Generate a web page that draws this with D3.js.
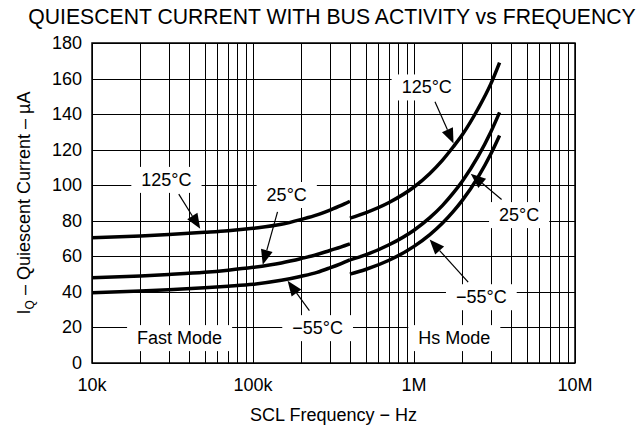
<!DOCTYPE html>
<html>
<head>
<meta charset="utf-8">
<script src="https://cdn.jsdelivr.net/npm/d3@7"></script>
<style>
  html, body { margin: 0; padding: 0; background: #fff; }
  svg { display: block; }
  text { font-family: "Liberation Sans", Arial, Helvetica, sans-serif; fill: #000; }
</style>
</head>
<body>
<svg id="chart" width="642" height="432"></svg>
<script>
// ---- data ----
const titleText = "QUIESCENT CURRENT WITH BUS ACTIVITY vs FREQUENCY";
const xTickValues = [1e4, 1e5, 1e6, 1e7];
const xTickLabels = ["10k", "100k", "1M", "10M"];
const yTickValues = [0, 20, 40, 60, 80, 100, 120, 140, 160, 180];

// Fast mode (10 kHz .. 400 kHz)
const fastFreq   = [1e4, 2e4, 3e4, 5e4, 7e4, 1e5, 1.5e5, 2e5, 2.5e5, 3e5, 3.5e5, 4e5];
const fast125    = [70.5, 71.5, 72.3, 73.5, 74.4, 75.8, 78.0, 80.8, 83.3, 86.0, 88.5, 91.0];
const fast25     = [48.0, 49.0, 49.8, 51.0, 52.2, 53.8, 56.3, 58.8, 61.0, 63.3, 65.2, 67.0];
const fastM55    = [39.5, 40.5, 41.2, 42.3, 43.2, 44.3, 46.5, 48.8, 51.0, 53.5, 55.8, 58.0];

// Hs mode (400 kHz .. 3.4 MHz)
const hsFreq     = [4e5, 5e5, 7e5, 1e6, 1.25e6, 1.5e6, 1.75e6, 2e6, 2.5e6, 3e6, 3.4e6];
const hs125      = [81.5, 84.5, 90.3, 99.0, 106.5, 114.0, 121.5, 128.5, 143.0, 157.0, 169.0];
const hs25       = [58.0, 60.8, 66.5, 74.7, 81.6, 88.5, 95.5, 102.4, 116.2, 130.0, 141.0];
const hsM55      = [50.0, 52.6, 57.8, 65.6, 72.1, 78.6, 85.1, 91.6, 104.6, 117.6, 128.0];

const seriesList = [
  { freq: fastFreq, vals: fast125 }, { freq: fastFreq, vals: fast25 }, { freq: fastFreq, vals: fastM55 },
  { freq: hsFreq, vals: hs125 },     { freq: hsFreq, vals: hs25 },     { freq: hsFreq, vals: hsM55 }
];

// annotations: text, label centre (freq, value), arrow tail and tip (freq, value)
const annoText  = ["125°C", "25°C", "−55°C", "125°C", "25°C", "−55°C", "Fast Mode", "Hs Mode"];
const annoAt    = [[2.9e4, 103], [1.62e5, 94.5], [2.52e5, 19.6], [1.2e6, 155], [4.5e6, 83.2], [2.62e6, 37], [3.5e4, 14], [1.78e6, 14]];
const arrowFrom = [[3.46e4, 95], [1.42e5, 85], [2.24e5, 29.5], [1.35e6, 147], [3.5e6, 92], [2.17e6, 45.5], null, null];
const arrowTo   = [[4.7e4, 75.5], [1.15e5, 55.2], [1.64e5, 46.2], [1.76e6, 123.5], [2.25e6, 106.5], [1.25e6, 69.5], null, null];

// ---- layout ----
const W = 642, H = 432;
const margin = { left: 92, right: 67, top: 43, bottom: 69 };
const svg = d3.select("#chart");
const x = d3.scaleLog().domain([1e4, 1e7]).range([margin.left, W - margin.right]);
const y = d3.scaleLinear().domain([0, 180]).range([H - margin.bottom, margin.top]);

// grid
const gridG = svg.append("g");
const minor = [];
for (let d = 1e4; d < 1e7; d *= 10) for (let k = 2; k <= 9; k++) minor.push(d * k);
const allV = xTickValues.concat(minor);
gridG.selectAll("line.v").data(allV).join("line")
  .attr("x1", d => Math.round(x(d)) + 0.5).attr("x2", d => Math.round(x(d)) + 0.5)
  .attr("y1", y(180)).attr("y2", y(0))
  .attr("stroke", "#000").attr("stroke-width", 1);
gridG.selectAll("line.h").data(yTickValues).join("line")
  .attr("x1", x(1e4)).attr("x2", x(1e7))
  .attr("y1", d => Math.round(y(d)) + 0.5).attr("y2", d => Math.round(y(d)) + 0.5)
  .attr("stroke", "#000").attr("stroke-width", 1);

// label masks
const fontSize = 18;
const annoG = svg.append("g");
annoText.forEach((t, i) => {
  const cx = x(annoAt[i][0]), cy = y(annoAt[i][1]);
  const txt = annoG.append("text").attr("x", cx).attr("y", cy)
    .attr("text-anchor", "middle").attr("dominant-baseline", "central")
    .attr("font-size", fontSize).text(t);
  const bb = txt.node().getBBox();
  annoG.insert("rect", "text").attr("x", bb.x - 10).attr("y", bb.y - 3)
    .attr("width", bb.width + 20).attr("height", bb.height + 6).attr("fill", "#fff");
});

// frame
svg.append("rect").attr("x", x(1e4)).attr("y", y(180))
  .attr("width", x(1e7) - x(1e4)).attr("height", y(0) - y(180))
  .attr("fill", "none").attr("stroke", "#000").attr("stroke-width", 1.5);

// curves
const line = d3.line().curve(d3.curveMonotoneX);
seriesList.forEach(s => {
  svg.append("path")
    .attr("d", line(s.freq.map((f, i) => [x(f), y(s.vals[i])])))
    .attr("fill", "none").attr("stroke", "#000").attr("stroke-width", 3.5);
});

// arrows
const arrG = svg.append("g");
arrowFrom.forEach((a, i) => {
  if (!a) return;
  const x0 = x(a[0]), y0 = y(a[1]), x1 = x(arrowTo[i][0]), y1 = y(arrowTo[i][1]);
  const ang = Math.atan2(y1 - y0, x1 - x0);
  const L = 15, Wd = 6;
  const bx = x1 - L * Math.cos(ang), by = y1 - L * Math.sin(ang);
  arrG.append("line").attr("x1", x0).attr("y1", y0).attr("x2", bx).attr("y2", by)
    .attr("stroke", "#000").attr("stroke-width", 1.2);
  const px = -Math.sin(ang) * Wd, py = Math.cos(ang) * Wd;
  arrG.append("path")
    .attr("d", `M${x1},${y1}L${bx + px},${by + py}L${bx - px},${by - py}Z`)
    .attr("fill", "#000");
});
annoG.raise();

// tick labels
svg.append("g").selectAll("text").data(yTickValues).join("text")
  .attr("x", margin.left - 10).attr("y", d => y(d))
  .attr("text-anchor", "end").attr("dominant-baseline", "central")
  .attr("font-size", fontSize).text(d => d);
svg.append("g").selectAll("text").data(xTickValues).join("text")
  .attr("x", d => x(d)).attr("y", y(0) + 28)
  .attr("text-anchor", "middle").attr("font-size", fontSize)
  .text((d, i) => xTickLabels[i]);

// titles
svg.append("text").attr("x", 332).attr("y", 24)
  .attr("text-anchor", "middle").attr("font-size", 21.2).text(titleText);
svg.append("text").attr("x", (x(1e4) + x(1e7)) / 2).attr("y", 421)
  .attr("text-anchor", "middle").attr("font-size", fontSize).text("SCL Frequency − Hz");
const yt = svg.append("text")
  .attr("transform", `translate(30,${(y(0) + y(180)) / 2}) rotate(-90)`)
  .attr("text-anchor", "middle").attr("font-size", fontSize);
yt.append("tspan").text("I");
yt.append("tspan").attr("font-size", 12).attr("dy", 4).text("Q");
yt.append("tspan").attr("dy", -4).text(" – Quiescent Current – µA");
</script>
</body>
</html>
